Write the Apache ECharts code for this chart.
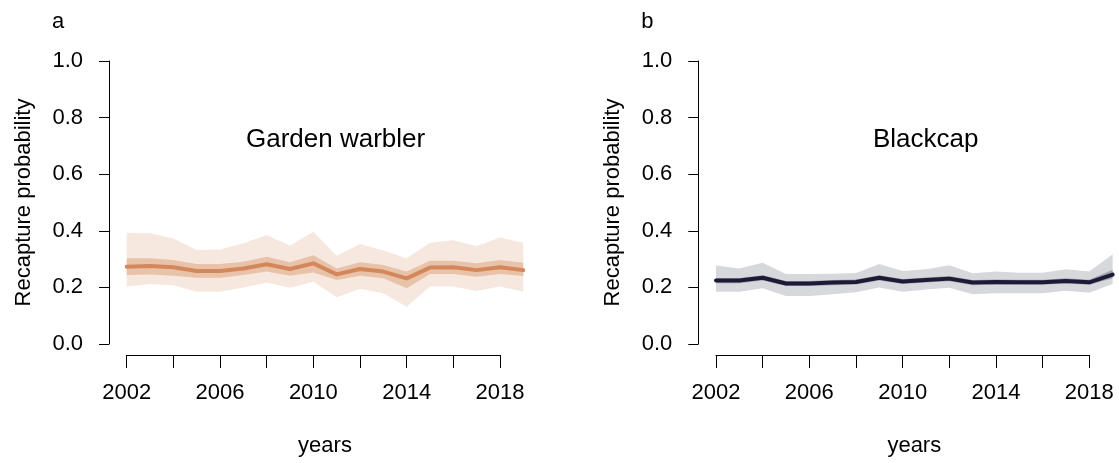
<!DOCTYPE html>
<html>
<head>
<meta charset="utf-8">
<script src="https://cdn.jsdelivr.net/npm/echarts@6/dist/echarts.min.js"></script>
<style>
  html, body { margin: 0; padding: 0; background: #fff; }
  #chart { width: 1119px; height: 463px; }
</style>
</head>
<body>
<div id="chart"></div>
<script>
// Yearly recapture probability estimates: mean, SE band and 95% band
const years = [2002, 2003, 2004, 2005, 2006, 2007, 2008, 2009, 2010, 2011, 2012, 2013, 2014, 2015, 2016, 2017, 2018, 2019];
const axisYears = ['2002', '2003', '2004', '2005', '2006', '2007', '2008', '2009', '2010', '2011', '2012', '2013', '2014', '2015', '2016', '2017', '2018'];

// Garden warbler
const gwMean = [0.273, 0.276, 0.271, 0.258, 0.258, 0.267, 0.282, 0.265, 0.285, 0.246, 0.265, 0.256, 0.232, 0.270, 0.271, 0.261, 0.271, 0.261];
const gwSeLo = [0.244, 0.246, 0.241, 0.234, 0.234, 0.244, 0.256, 0.241, 0.253, 0.226, 0.241, 0.232, 0.197, 0.247, 0.247, 0.238, 0.247, 0.240];
const gwSeHi = [0.303, 0.303, 0.297, 0.283, 0.283, 0.291, 0.308, 0.289, 0.314, 0.267, 0.289, 0.279, 0.256, 0.294, 0.294, 0.285, 0.297, 0.287];
const gwCiLo = [0.203, 0.212, 0.208, 0.185, 0.185, 0.200, 0.217, 0.199, 0.220, 0.165, 0.194, 0.179, 0.132, 0.203, 0.203, 0.187, 0.203, 0.185];
const gwCiHi = [0.393, 0.391, 0.373, 0.332, 0.334, 0.356, 0.385, 0.347, 0.397, 0.312, 0.353, 0.330, 0.303, 0.358, 0.367, 0.346, 0.376, 0.358];

// Blackcap
const bcMean = [0.224, 0.224, 0.234, 0.214, 0.214, 0.217, 0.219, 0.234, 0.221, 0.226, 0.231, 0.217, 0.219, 0.218, 0.218, 0.223, 0.218, 0.245];
const bcSeLo = [0.215, 0.215, 0.224, 0.205, 0.205, 0.208, 0.210, 0.224, 0.212, 0.217, 0.222, 0.208, 0.210, 0.209, 0.209, 0.214, 0.209, 0.232];
const bcSeHi = [0.233, 0.233, 0.243, 0.223, 0.223, 0.226, 0.228, 0.243, 0.230, 0.235, 0.240, 0.226, 0.228, 0.227, 0.227, 0.232, 0.227, 0.262];
const bcCiLo = [0.185, 0.185, 0.197, 0.170, 0.170, 0.176, 0.183, 0.200, 0.185, 0.193, 0.199, 0.176, 0.179, 0.179, 0.179, 0.188, 0.181, 0.212];
const bcCiHi = [0.277, 0.267, 0.287, 0.247, 0.247, 0.248, 0.251, 0.283, 0.258, 0.264, 0.278, 0.250, 0.256, 0.252, 0.252, 0.264, 0.256, 0.317];

const FONT = '"Liberation Sans", Arial, Helvetica, sans-serif';
const INK = '#000';
const Y_OFFSET = 17.7;   // y axis sits left of the data area
const X_OFFSET = 11;     // x axis sits below the data area

const panels = [
  { letter: 'a', name: 'Garden warbler', dx: 0, titleX: 246,
    mean: gwMean, seLo: gwSeLo, seHi: gwSeHi, ciLo: gwCiLo, ciHi: gwCiHi,
    line: '#d3875a', inner: '#e9c3a9', outer: '#f6e7df' },
  { letter: 'b', name: 'Blackcap', dx: 589.3, titleX: 873,
    mean: bcMean, seLo: bcSeLo, seHi: bcSeHi, ciLo: bcCiLo, ciHi: bcCiHi,
    line: '#1b1b38', inner: '#a3a4ae', outer: '#d7d8dc' }
];

const grids = [], xAxes = [], yAxes = [], series = [], titles = [];
const diff = (hi, lo) => hi.map((v, i) => +(v - lo[i]).toFixed(4));

panels.forEach((p, k) => {
  const left = 126.7 + p.dx;
  const gData = 2 * k, gAxis = 2 * k + 1;
  // data area spans 2002..2019; the drawn x axis spans 2002..2018
  grids.push({ left: left, top: 61, width: 396.6, height: 283 });
  grids.push({ left: left, top: 61, width: 373.3, height: 283 });

  xAxes.push({
    gridIndex: gData, type: 'category', data: years.map(String), boundaryGap: false,
    offset: X_OFFSET,
    axisLine: { show: false, onZero: false }, axisTick: { show: false }, axisLabel: { show: false },
    splitLine: { show: false },
    name: 'years', nameLocation: 'middle', nameGap: 80,
    nameTextStyle: { fontFamily: FONT, fontSize: 22, color: INK }
  });
  xAxes.push({
    gridIndex: gAxis, type: 'category', data: axisYears, boundaryGap: false, offset: X_OFFSET,
    axisLine: { show: true, onZero: false, lineStyle: { color: INK, width: 1 } },
    axisTick: { show: true, interval: 1, length: 13, lineStyle: { color: INK, width: 1 } },
    axisLabel: { interval: 3, margin: 27, fontFamily: FONT, fontSize: 22, color: INK },
    splitLine: { show: false }
  });

  yAxes.push({
    gridIndex: gData, type: 'value', min: 0, max: 1, interval: 0.2, offset: Y_OFFSET,
    axisLine: { show: true, onZero: false, lineStyle: { color: INK, width: 1 } },
    axisTick: { show: true, length: 10, lineStyle: { color: INK, width: 1 } },
    axisLabel: { margin: 26, fontFamily: FONT, fontSize: 22, color: INK,
      formatter: v => v.toFixed(1) },
    splitLine: { show: false },
    name: 'Recapture probability', nameLocation: 'middle', nameGap: 74, nameRotate: 90,
    nameTextStyle: { fontFamily: FONT, fontSize: 22, color: INK }
  });
  yAxes.push({ gridIndex: gAxis, type: 'value', min: 0, max: 1, show: false });

  const common = { xAxisIndex: gData, yAxisIndex: gData, type: 'line', symbol: 'none',
    silent: true, animation: false };
  // 95% band
  series.push(Object.assign({}, common, { stack: 'ci' + k, data: p.ciLo,
    lineStyle: { opacity: 0 } }));
  series.push(Object.assign({}, common, { stack: 'ci' + k, data: diff(p.ciHi, p.ciLo),
    lineStyle: { opacity: 0 }, areaStyle: { color: p.outer, opacity: 1 } }));
  // SE band
  series.push(Object.assign({}, common, { stack: 'se' + k, data: p.seLo,
    lineStyle: { opacity: 0 } }));
  series.push(Object.assign({}, common, { stack: 'se' + k, data: diff(p.seHi, p.seLo),
    lineStyle: { opacity: 0 }, areaStyle: { color: p.inner, opacity: 1 } }));
  // mean estimate
  series.push(Object.assign({}, common, { data: p.mean,
    lineStyle: { color: p.line, width: 4, cap: 'round', join: 'round' } }));

  titles.push({ text: p.letter, left: 52 + p.dx, top: 11, padding: 0,
    textStyle: { fontFamily: FONT, fontSize: 22, fontWeight: 'normal', color: INK, lineHeight: 22 } });
  titles.push({ text: p.name, left: p.titleX, top: 127, padding: 0,
    textStyle: { fontFamily: FONT, fontSize: 26, fontWeight: 'normal', color: INK, lineHeight: 26 } });
});

const chart = echarts.init(document.getElementById('chart'));
chart.setOption({
  animation: false,
  backgroundColor: '#fff',
  title: titles,
  grid: grids,
  xAxis: xAxes,
  yAxis: yAxes,
  series: series
});

// Axis baselines, placed from each axis' own scale
const crisp = v => Math.round(v) + 0.5;
const axisLines = [];
panels.forEach((p, k) => {
  const gData = 2 * k, gAxis = 2 * k + 1;
  const yLow = chart.convertToPixel({ yAxisIndex: gData }, 0);
  const yHigh = chart.convertToPixel({ yAxisIndex: gData }, 1);
  const xFirst = chart.convertToPixel({ xAxisIndex: gAxis }, 0);
  const xLast = chart.convertToPixel({ xAxisIndex: gAxis }, axisYears.length - 1);
  const xy = crisp(xFirst - Y_OFFSET);
  const yx = crisp(yLow + X_OFFSET);
  axisLines.push({ type: 'line', silent: true, z: 10,
    shape: { x1: xy, y1: yHigh, x2: xy, y2: yLow }, style: { stroke: INK, lineWidth: 1 } });
  axisLines.push({ type: 'line', silent: true, z: 10,
    shape: { x1: xFirst, y1: yx, x2: xLast, y2: yx }, style: { stroke: INK, lineWidth: 1 } });
});
chart.setOption({ graphic: axisLines });
</script>
</body>
</html>
